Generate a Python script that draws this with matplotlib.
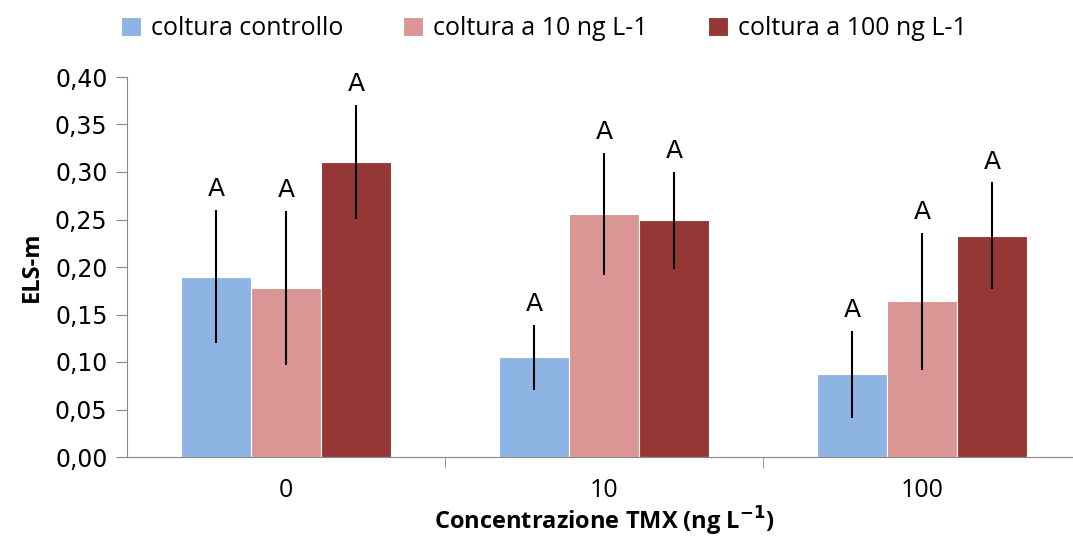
import numpy as np
import matplotlib.pyplot as plt

groups = ["0", "10", "100"]
series = ["coltura controllo", "coltura a 10 ng L-1", "coltura a 100 ng L-1"]
controllo = [0.190, 0.105, 0.087]
c10 = [0.178, 0.256, 0.164]
c100 = [0.311, 0.249, 0.233]
err_controllo = [0.070, 0.034, 0.046]
err_c10 = [0.081, 0.064, 0.072]
err_c100 = [0.060, 0.051, 0.056]
letters = [["A", "A", "A"], ["A", "A", "A"], ["A", "A", "A"]]

colors = ["#8EB4E3", "#D99694", "#953735"]
values = [controllo, c10, c100]
errors = [err_controllo, err_c10, err_c100]

fig = plt.figure(figsize=(10.73, 5.42), dpi=100)
ax = fig.add_axes([127 / 1073, 1 - 457 / 542, 954 / 1073, 380 / 542])

x = np.arange(len(groups))
w = 0.22
for i in range(3):
    pos = x + (i - 1) * w
    ax.bar(pos, values[i], w, color=colors[i], edgecolor="white", linewidth=0.8,
           label=series[i], zorder=2)
    ax.errorbar(pos, values[i], yerr=errors[i], fmt="none", ecolor="black",
                elinewidth=1.5, capsize=0, zorder=3)
    for j in range(3):
        ax.text(pos[j], values[i][j] + errors[i][j] + 0.009, letters[i][j],
                ha="center", va="bottom", fontsize=18, family="DejaVu Sans")

ax.set_xlim(-0.5, 2.5)
ax.set_ylim(0, 0.40)
yt = np.arange(0, 0.41, 0.05)
ax.set_yticks(yt)
ax.set_yticklabels([f"{v:.2f}".replace(".", ",") for v in yt],
                   fontsize=17, family="DejaVu Sans")
ax.set_xticks(x)
ax.set_xticklabels(groups, fontsize=18, family="Open Sans")
ax.set_xticks([0.5, 1.5], minor=True)
ax.tick_params(axis="x", which="major", length=0, pad=15)
ax.tick_params(axis="x", which="minor", length=8, color="#868686", direction="out")
ax.tick_params(axis="y", length=8, color="#868686", pad=6)

for s in ["top", "right"]:
    ax.spines[s].set_visible(False)
ax.spines["left"].set_color("#868686")
ax.spines["bottom"].set_color("#868686")

ax.set_ylabel("ELS-m", fontsize=17, fontweight="bold", family="Open Sans", labelpad=8)
fig.text(604 / 1073, 4 / 542, "Concentrazione TMX (ng L$^{\\mathbf{-1}}$)",
         fontsize=17, fontweight="bold", family="Open Sans", ha="center", va="bottom")

leg = fig.legend(loc="upper center", bbox_to_anchor=(0.507, 1.012), ncol=3, frameon=False,
                 prop={"family": "Open Sans", "size": 18}, handlelength=0.8, handleheight=0.8,
                 columnspacing=2.4, handletextpad=0.4)

fig.savefig("out.png", dpi=100)
